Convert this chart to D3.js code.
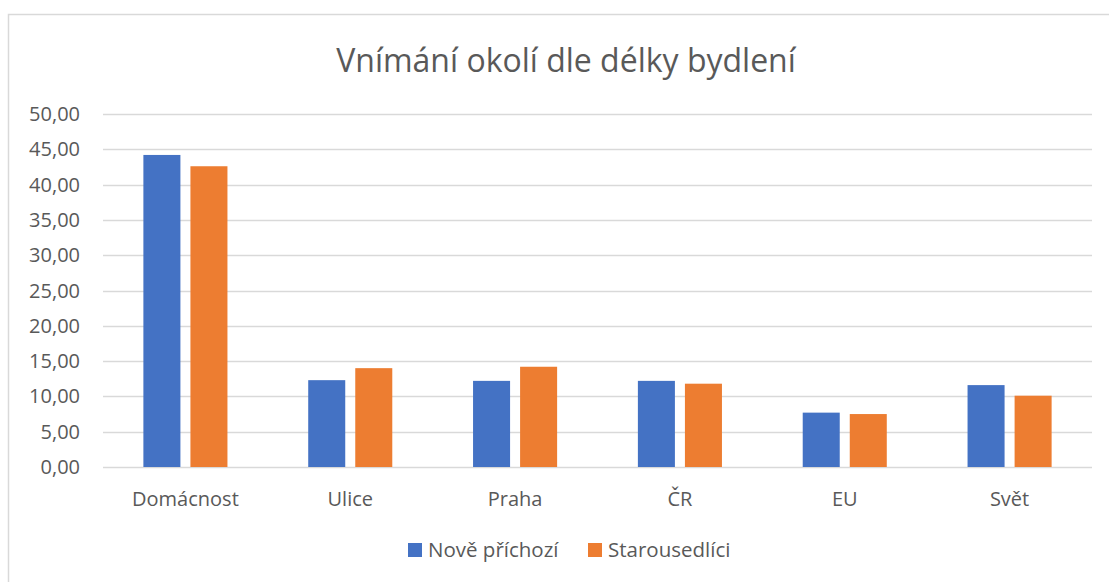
<!DOCTYPE html>
<html>
<head>
<meta charset="utf-8">
<script src="https://cdn.jsdelivr.net/npm/d3@7"></script>
<style>
  body { margin: 0; background: #fff; }
  text { font-family: "Open Sans", "Noto Sans", sans-serif; fill: #595959; }
</style>
</head>
<body>
<div id="chart"></div>
<script>
// chart values
const categories = ["Domácnost", "Ulice", "Praha", "ČR", "EU", "Svět"];
const seriesNames = ["Nově příchozí", "Starousedlíci"];
const noveValues = [44.2, 12.3, 12.2, 12.2, 7.7, 11.6];
const staroValues = [42.6, 14.0, 14.2, 11.8, 7.5, 10.1];
const yTicks = [0, 5, 10, 15, 20, 25, 30, 35, 40, 45, 50];
const colors = ["#4472C4", "#ED7D31"];

const width = 1109, height = 582;
const margin = { top: 114, right: 17, bottom: 115, left: 103 };

const svg = d3.select("#chart").append("svg")
    .attr("width", width)
    .attr("height", height);

// chart frame (runs off the right and bottom edges like in the picture)
svg.append("rect")
    .attr("x", 8.5).attr("y", 14.5)
    .attr("width", width + 20).attr("height", height + 20)
    .attr("fill", "none")
    .attr("stroke", "#d9d9d9")
    .attr("stroke-width", 1.5);

svg.append("text")
    .attr("x", 566)
    .attr("y", 72)
    .attr("text-anchor", "middle")
    .style("font-size", "32px")
    .text("Vnímání okolí dle délky bydlení");

const x0 = d3.scaleBand()
    .domain(categories)
    .range([margin.left, width - margin.right])
    .paddingInner(0.49)
    .paddingOuter(0.245);

const x1 = d3.scaleBand()
    .domain(seriesNames)
    .range([0, x0.bandwidth()])
    .paddingInner(0.213);

const y = d3.scaleLinear()
    .domain([0, 50])
    .range([height - margin.bottom, margin.top]);

const cz = d3.formatLocale({ decimal: ",", thousands: " ", grouping: [3], currency: ["", " Kč"] });
const fmt = cz.format(".2f");

// gridlines
svg.append("g")
    .selectAll("line")
    .data(yTicks)
    .enter().append("line")
    .attr("x1", margin.left)
    .attr("x2", width - margin.right)
    .attr("y1", d => Math.round(y(d)) + 0.5)
    .attr("y2", d => Math.round(y(d)) + 0.5)
    .attr("stroke", "#d9d9d9")
    .attr("stroke-width", 1.5);

// y labels
svg.append("g")
    .selectAll("text")
    .data(yTicks)
    .enter().append("text")
    .attr("x", 80)
    .attr("y", d => y(d))
    .attr("dy", "0.35em")
    .attr("text-anchor", "end")
    .style("font-size", "20px")
    .text(d => fmt(d));

const rows = categories.map((c, i) => ({ cat: c, vals: [noveValues[i], staroValues[i]] }));

const groups = svg.append("g")
    .selectAll("g")
    .data(rows)
    .enter().append("g")
    .attr("transform", d => `translate(${x0(d.cat)},0)`);

groups.selectAll("rect")
    .data(d => d.vals.map((v, j) => ({ name: seriesNames[j], value: v, j })))
    .enter().append("rect")
    .attr("x", d => x1(d.name))
    .attr("width", x1.bandwidth())
    .attr("y", d => y(d.value))
    .attr("height", d => y(0) - y(d.value))
    .attr("fill", d => colors[d.j]);

// category labels
svg.append("g")
    .selectAll("text")
    .data(categories)
    .enter().append("text")
    .attr("x", d => x0(d) + x0.bandwidth() / 2)
    .attr("y", 506)
    .attr("text-anchor", "middle")
    .style("font-size", "20px")
    .text(d => d);

// legend
const legendX = [408, 588];
const legend = svg.append("g")
    .selectAll("g")
    .data(seriesNames)
    .enter().append("g")
    .attr("transform", (d, i) => `translate(${legendX[i]},543)`);

legend.append("rect")
    .attr("width", 14).attr("height", 14)
    .attr("fill", (d, i) => colors[i]);

legend.append("text")
    .attr("x", 20)
    .attr("y", 7)
    .attr("dy", "0.35em")
    .style("font-size", "20.5px")
    .text(d => d);
</script>
</body>
</html>
